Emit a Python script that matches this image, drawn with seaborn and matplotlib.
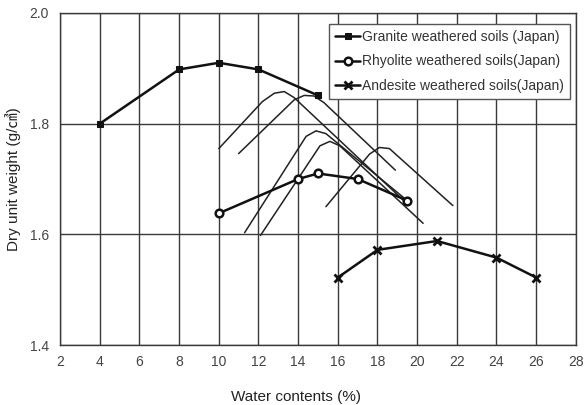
import numpy as np
import pandas as pd
import matplotlib
matplotlib.use("Agg")
import matplotlib.pyplot as plt
import seaborn as sns

granite_w = [4, 8, 10, 12, 15]
granite_d = [1.800, 1.898, 1.910, 1.898, 1.851]

rhyolite_w = [10, 14, 15, 17, 19.5]
rhyolite_d = [1.638, 1.700, 1.710, 1.700, 1.661]

andesite_w = [16, 18, 21, 24, 26]
andesite_d = [1.522, 1.572, 1.588, 1.558, 1.522]

# thin reference curves (no legend)
curve_a_w = [10.0, 12.2, 12.8, 13.3, 13.8, 19.5]
curve_a_d = [1.755, 1.840, 1.855, 1.858, 1.847, 1.655]
curve_b_w = [11.0, 13.8, 14.3, 14.8, 15.3, 18.9]
curve_b_d = [1.746, 1.843, 1.851, 1.850, 1.838, 1.716]
curve_c_w = [11.3, 14.4, 14.9, 15.4, 19.4]
curve_c_d = [1.603, 1.777, 1.787, 1.782, 1.664]
curve_d_w = [12.1, 15.1, 15.6, 16.1, 20.3]
curve_d_d = [1.598, 1.760, 1.768, 1.760, 1.620]
curve_e_w = [15.4, 17.6, 18.1, 18.6, 21.8]
curve_e_d = [1.650, 1.745, 1.757, 1.755, 1.652]

sns.set_style("white")
plt.rcParams['font.family'] = ['Liberation Sans', 'Noto Sans CJK KR', 'DejaVu Sans']

fig = plt.figure(figsize=(5.84, 4.05), dpi=100)
ax = fig.add_axes([0.103, 0.148, 0.883, 0.820])

thin = [(curve_a_w, curve_a_d), (curve_b_w, curve_b_d), (curve_c_w, curve_c_d),
        (curve_d_w, curve_d_d), (curve_e_w, curve_e_d)]
for w, d in thin:
    sns.lineplot(x=w, y=d, ax=ax, color='#222222', lw=1.1, sort=False,
                 estimator=None, legend=False)

sns.lineplot(x=granite_w, y=granite_d, ax=ax, color='#111111', lw=1.8,
             marker='s', markersize=4, mec='#111111', mfc='#111111',
             label='Granite weathered soils (Japan)')
sns.lineplot(x=rhyolite_w, y=rhyolite_d, ax=ax, color='#111111', lw=1.8,
             marker='o', markersize=5.5, mec='#111111', mfc='white', mew=1.8,
             label='Rhyolite weathered soils(Japan)')
sns.lineplot(x=andesite_w, y=andesite_d, ax=ax, color='#111111', lw=1.8,
             marker='x', markersize=5.5, mec='#111111', mew=2.0,
             label='Andesite weathered soils(Japan)')

ax.set_xlim(2, 28)
ax.set_ylim(1.4, 2.0)
ax.set_xticks(np.arange(2, 29, 2))
ax.set_yticks([1.4, 1.6, 1.8, 2.0])
ax.set_yticklabels(['1.4', '1.6', '1.8', '2.0'])
ax.grid(True, color='#3a3a3a', lw=1.0)
ax.set_axisbelow(True)
for s in ax.spines.values():
    s.set_color('#3a3a3a')
    s.set_linewidth(1.0)
ax.tick_params(axis='both', length=0, labelsize=10, colors='#444444')
ax.tick_params(axis='y', pad=8)
ax.tick_params(axis='x', pad=7)

ax.set_xlabel('Water contents (%)', fontsize=11, color='#222222', va='top')
ax.xaxis.set_label_coords((296 - 60) / 516, -(390 - 345) / 332)
ax.set_ylabel('Dry unit weight (g/㎤)', fontsize=11, color='#222222')
ax.yaxis.set_label_coords((21 - 60) / 516, 0.5)

leg = ax.legend(loc='upper right', bbox_to_anchor=(0.995, 0.976), fontsize=10,
                frameon=True, fancybox=False, handlelength=1.8,
                borderpad=0.45, labelspacing=0.75, handletextpad=0.15,
                borderaxespad=0.2)
leg.get_frame().set_edgecolor('#555555')
leg.get_frame().set_linewidth(1.0)
leg.get_frame().set_alpha(1)
for t in leg.get_texts():
    t.set_color('#333333')

fig.savefig('out.png', dpi=100)
